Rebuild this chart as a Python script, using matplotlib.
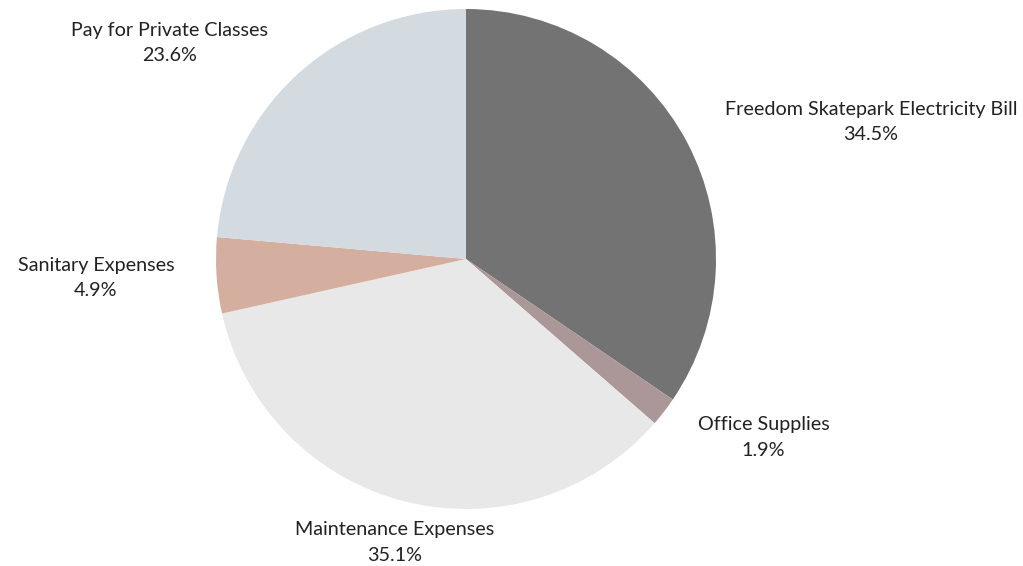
import matplotlib
matplotlib.use("Agg")
import matplotlib.pyplot as plt
import numpy as np

categories = ["Freedom Skatepark Electricity Bill", "Office Supplies", "Maintenance Expenses",
              "Sanitary Expenses", "Pay for Private Classes"]
values = [34.5, 1.9, 35.1, 4.9, 23.6]
colors = ["#737373", "#ab9797", "#e8e8e8", "#d4afa0", "#d3dae0"]

W, H = 1023, 566
cx, cy, R = 466, 259, 250

fig = plt.figure(figsize=(W / 100, H / 100), dpi=100)
ax = fig.add_axes([0, 0, 1, 1])
wedges, _ = ax.pie(values, colors=colors, startangle=90, counterclock=False,
                   radius=R, center=(0, 0), wedgeprops=dict(linewidth=0))
ax.set_xlim(-cx, W - cx)
ax.set_ylim(-(H - cy), cy)
ax.set_aspect('equal')
ax.axis('off')

total = sum(values)
for w, cat, v in zip(wedges, categories, values):
    ang = np.deg2rad((w.theta1 + w.theta2) / 2)
    d = R * 1.17
    x, y = d * np.cos(ang), d * np.sin(ang)
    c = np.cos(ang)
    if abs(c) < 0.35:
        ha = 'center'
    elif c > 0:
        ha = 'left'
    else:
        ha = 'right'
    ax.text(x, y, f"{cat}\n{v / total * 100:.1f}%", ha=ha, va='center', multialignment='center',
            fontsize=14.2, family=['Lato', 'DejaVu Sans'], color='#222222', linespacing=1.6)

fig.savefig("out.png", dpi=100)
